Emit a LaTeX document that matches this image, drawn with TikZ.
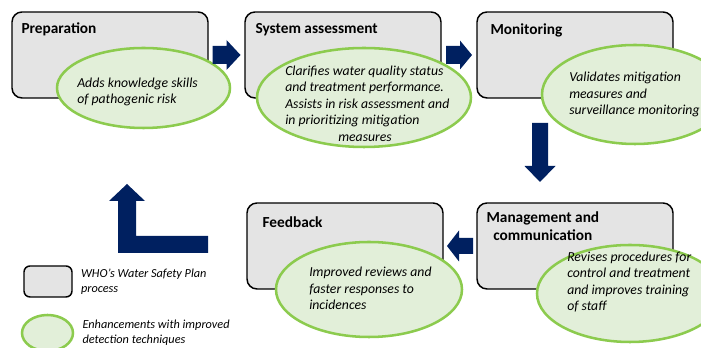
\documentclass[tikz,border=0pt]{standalone}
\usepackage{fontspec}
\setmainfont{Carlito}
\usetikzlibrary{shapes.geometric,positioning,calc}
\definecolor{navy}{HTML}{002060}
\definecolor{boxgray}{HTML}{E4E4E4}
\definecolor{leafgreen}{HTML}{8CCB4E}
\definecolor{palegreen}{HTML}{E2EFD9}
\tikzset{
  pics/flowarrow/.style n args={4}{code={
    \fill[navy] ({-#1/2},{-#2/2}) -- ({#1/2-#4},{-#2/2}) -- ({#1/2-#4},{-#3/2}) -- ({#1/2},0)
      -- ({#1/2-#4},{#3/2}) -- ({#1/2-#4},{#2/2}) -- ({-#1/2},{#2/2}) -- cycle;
  }}
}
\begin{document}
\begin{tikzpicture}[
  x=0.75pt, y=-0.75pt,
  wspbox/.style={rectangle, rounded corners=7.5pt, draw=black, line width=1.1pt, fill=boxgray, minimum width=147pt, minimum height=64.5pt},
  enhance/.style={ellipse, draw=leafgreen, line width=1.9pt, fill=palegreen, inner sep=0pt},
  stagetitle/.style={anchor=base west, inner sep=0pt, font=\fontsize{11.5}{13.5}\selectfont\bfseries},
  enhancetext/.style={anchor=west, align=left, inner sep=0pt, font=\fontsize{10.3}{12.4}\selectfont\itshape},
  keytext/.style={anchor=west, align=left, inner sep=0pt, font=\fontsize{9.2}{10.9}\selectfont\itshape}
]
\useasboundingbox (0,0) rectangle (701,348);
\clip (0,0) rectangle (701,348);

% process boxes
\node[wspbox] (prep) at (110,55) {};
\node[wspbox, right of=prep, node distance=174.75pt] (sys) {};
\node[wspbox, right of=sys, node distance=174pt] (mon) {};
\node[wspbox, below of=mon, node distance=143.25pt] (mgmt) {};
\node[wspbox, left of=mgmt, node distance=172.5pt] (fb) {};

\node[stagetitle] (prepT) at ([shift={(10,22)}]prep.north west) {Preparation};
\node[stagetitle] (sysT) at ([shift={(11,22)}]sys.north west) {System assessment};
\node[stagetitle] (monT) at ([shift={(14,23)}]mon.north west) {Monitoring};
\node[stagetitle] (fbT) at ([shift={(16,25)}]fb.north west) {Feedback};
\node[stagetitle, anchor=north west, align=center] (mgmtT) at ([shift={(10,9)}]mgmt.north west) {Management and\\communication};

% enhancements
\node[enhance, minimum width=129.75pt, minimum height=60pt] (e1) at (143.5,88) {};
\node[enhance, minimum width=160.5pt, minimum height=74.25pt] (e2) at (364,97.5) {};
\node[enhance, minimum width=139.5pt, minimum height=74.25pt] (e3) at (635,94.5) {};
\node[enhance, minimum width=139.5pt, minimum height=71.25pt] (e5) at (369,289.5) {};
\node[enhance, minimum width=139.5pt, minimum height=72.75pt] (e6) at (630,293.5) {};

\node[enhancetext] (t1) at ([shift={(-66.5,4)}]e1.center) {Adds knowledge skills\\of pathogenic risk};
\node[enhancetext] (t2) at ([shift={(-79,6)}]e2.center) {Clarifies water quality status\\and treatment performance.\\Assists in risk assessment and\\in prioritizing mitigation\\\hspace*{39.75pt}measures};
\node[enhancetext] (t3) at ([shift={(-66,0)}]e3.center) {Validates mitigation\\measures and\\surveillance monitoring};
\node[enhancetext] (t5) at ([shift={(-60,-1)}]e5.center) {Improved reviews and\\faster responses to\\incidences};
\node[enhancetext] (t6) at ([shift={(-63,-11.5)}]e6.center) {Revises procedures for\\control and treatment\\and improves training\\of staff};

% flow arrows
\pic at ($(prep.east)!0.5!(sys.west)$) {flowarrow={28}{18}{30}{14}};
\pic at ($(sys.east)!0.5!(mon.west)$) {flowarrow={26}{18}{29}{12}};
\pic[rotate=-90] at (540,152.5) {flowarrow={59}{16}{31}{16}};
\pic[rotate=180] at ($(mgmt.west)!0.5!(fb.east)$) {flowarrow={26}{16}{31}{12}};
\fill[navy] (118,201) -- (109,201) -- (127,184) -- (145,201) -- (136,201) -- (136,236)
  -- (208,236) -- (208,253) -- (118,253) -- cycle;

% key
\node[wspbox, minimum width=36pt, minimum height=23.25pt, rounded corners=4.5pt] (keybox) at (48,281.5) {};
\node[enhance, minimum width=38.25pt, minimum height=27pt] (keyell) at (47.5,333) {};
\node[keytext, right=6pt of keybox] (keyboxT) {WHO’s Water Safety Plan\\process};
\node[keytext, right=6pt of keyell] (keyellT) {Enhancements with improved\\detection techniques};
\end{tikzpicture}
\end{document}
